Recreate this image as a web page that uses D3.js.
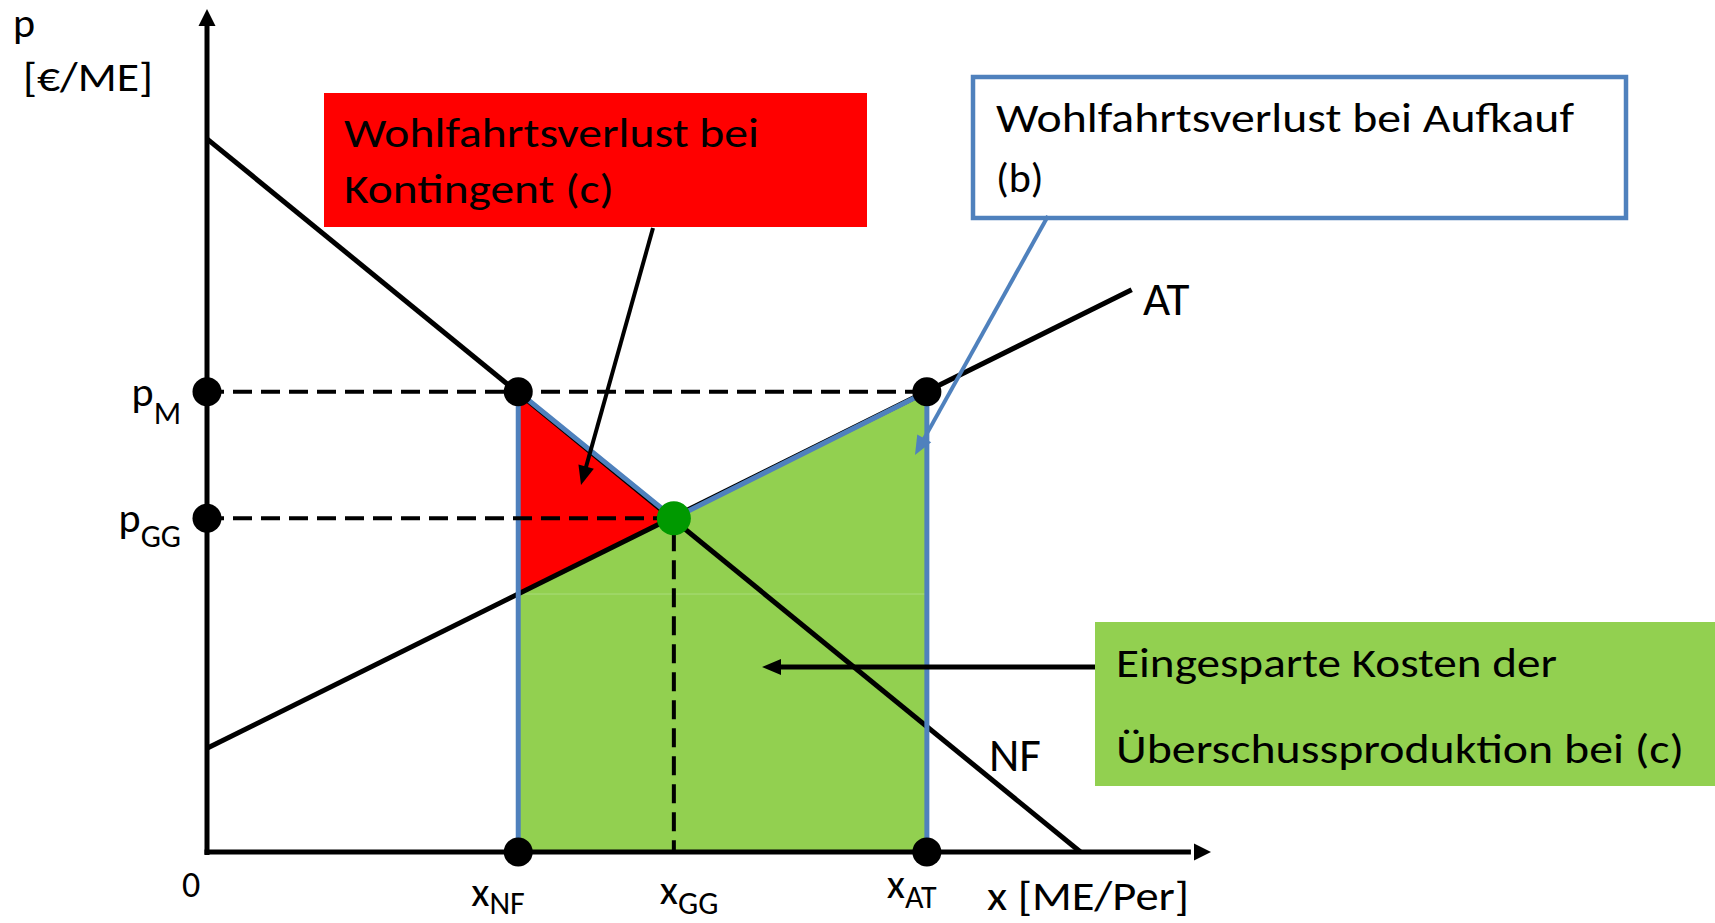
<!DOCTYPE html>
<html>
<head>
<meta charset="utf-8">
<script src="https://cdn.jsdelivr.net/npm/d3@7/dist/d3.min.js"></script>
<style>
  html, body { margin: 0; padding: 0; background: #fff; }
  svg { display: block; }
  text { font-family: Carlito, Calibri, 'Open Sans', sans-serif; fill: #000; }
</style>
</head>
<body>
<svg id="chart" width="1715" height="923"></svg>
<script>
// Data (x in ME/Per, p in EUR/ME, schematic units, axis tips = 100)
const nfLine = [[0, 84.6], [87, 0]];
const atLine = [[0, 12.3], [92.1, 66.7]];
const quantities = [31, 46.5, 71.7];          // x_NF, x_GG, x_AT
const prices = [54.6, 39.6];                  // p_M, p_GG
const xSubLabels = ['NF', 'GG', 'AT'];
const pSubLabels = ['M', 'GG'];
const redArea = [[31, 54.6], [46.5, 39.6], [31, 30.6]];
const greenArea = [[31, 30.6], [46.5, 39.6], [71.7, 54.6], [71.7, 0], [31, 0]];
const redBoxText = ['Wohlfahrtsverlust bei', 'Kontingent (c)'];
const blueBoxText = ['Wohlfahrtsverlust bei Aufkauf', '(b)'];
const greenBoxText = ['Eingesparte Kosten der', 'Überschussproduktion bei (c)'];

// Constants
const RED = '#ff0000';
const GREEN = '#92d050';
const BLUE = '#4f81bd';
const DOT_GREEN = '#009900';
const FONT = 42;
const SUB_FONT = 32;

const svg = d3.select('#chart');
const x = d3.scaleLinear().domain([0, 100]).range([207, 1211]);
const y = d3.scaleLinear().domain([0, 100]).range([852, 9]);
const line = d3.line().x(d => x(d[0])).y(d => y(d[1]));

const [qNF, qGG, qAT] = quantities;
const [pM, pGG] = prices;

// Areas
svg.append('path').datum(greenArea).attr('d', d => line(d) + 'Z').attr('fill', GREEN);
svg.append('line')
    .attr('x1', x(qNF)).attr('x2', x(qAT))
    .attr('y1', y(greenArea[0][1])).attr('y2', y(greenArea[0][1]))
    .attr('stroke', '#a9dc7c').attr('stroke-width', 1);
svg.append('path').datum(redArea).attr('d', d => line(d) + 'Z').attr('fill', RED);

// Axes
svg.append('line')
    .attr('x1', x(0)).attr('x2', x(0)).attr('y1', y(0) + 3).attr('y2', y(98))
    .attr('stroke', '#000').attr('stroke-width', 5);
svg.append('line')
    .attr('x1', x(0) - 2.5).attr('x2', x(98)).attr('y1', y(0)).attr('y2', y(0))
    .attr('stroke', '#000').attr('stroke-width', 5);
svg.append('path')
    .attr('d', `M${x(0) - 8.5},${y(100) + 17}L${x(0)},${y(100)}L${x(0) + 8.5},${y(100) + 17}Z`);
svg.append('path')
    .attr('d', `M${x(100) - 17},${y(0) - 8.5}L${x(100)},${y(0)}L${x(100) - 17},${y(0) + 8.5}Z`);

// Curves
[nfLine, atLine].forEach(l => {
    svg.append('path').datum(l).attr('d', line)
        .attr('fill', 'none').attr('stroke', '#000').attr('stroke-width', 5);
});

// Blue outline of the areas
svg.append('path')
    .datum([[qNF, 0], [qNF, pM], [qGG, pGG], [qAT, pM], [qAT, 0]])
    .attr('d', line)
    .attr('fill', 'none').attr('stroke', BLUE).attr('stroke-width', 5);

// Dashed guides
const dashed = [
    [[0, pM], [qAT, pM]],
    [[0, pGG], [qGG, pGG]],
    [[qGG, pGG], [qGG, 0]]
];
svg.selectAll('.guide').data(dashed).join('path')
    .attr('class', 'guide')
    .attr('d', line)
    .attr('fill', 'none').attr('stroke', '#000').attr('stroke-width', 4)
    .attr('stroke-dasharray', '19 9')
    .attr('stroke-dashoffset', (d, i) => i < 2 ? 2 : -14);

// Dots
const blackDots = [[0, pM], [0, pGG], [qNF, pM], [qAT, pM], [qNF, 0], [qAT, 0]];
svg.selectAll('.dot').data(blackDots).join('circle')
    .attr('class', 'dot')
    .attr('cx', d => x(d[0])).attr('cy', d => y(d[1])).attr('r', 14.5)
    .attr('fill', '#000');
svg.append('circle')
    .attr('cx', x(qGG)).attr('cy', y(pGG)).attr('r', 17)
    .attr('fill', DOT_GREEN);

// Boxes
function box(bx, by, w, h, fill, stroke, lines, tx, baselines, widths) {
    svg.append('rect')
        .attr('x', bx).attr('y', by).attr('width', w).attr('height', h)
        .attr('fill', fill)
        .attr('stroke', stroke || 'none').attr('stroke-width', stroke ? 4.5 : 0);
    lines.forEach((t, i) => {
        let el = svg.append('text')
            .attr('x', tx).attr('y', baselines[i])
            .attr('font-size', FONT)
            .text(t);
        if (widths[i]) el.attr('textLength', widths[i]).attr('lengthAdjust', 'spacingAndGlyphs');
    });
}
box(324, 93, 543, 134, RED, null, redBoxText, 344, [147, 203], [415, 270]);
box(973, 77, 653, 141, '#fff', BLUE, blueBoxText, 996, [132, 192], [578, 0]);
box(1095, 622, 625, 164, GREEN, null, greenBoxText, 1116, [677, 763], [441, 568]);

// Arrows
function arrow(x1, y1, x2, y2, color, width) {
    let a = Math.atan2(y2 - y1, x2 - x1),
        len = 19, half = 8,
        bx = x2 - len * Math.cos(a), by = y2 - len * Math.sin(a);
    svg.append('line')
        .attr('x1', x1).attr('y1', y1)
        .attr('x2', bx + 4 * Math.cos(a)).attr('y2', by + 4 * Math.sin(a))
        .attr('stroke', color).attr('stroke-width', width);
    svg.append('path')
        .attr('d', `M${x2},${y2}L${bx - half * Math.sin(a)},${by + half * Math.cos(a)}L${bx + half * Math.sin(a)},${by - half * Math.cos(a)}Z`)
        .attr('fill', color);
}
arrow(653, 228, 581, 485, '#000', 4);
arrow(1048, 216, 915, 455, BLUE, 4);
arrow(1095, 667, 762, 667, '#000', 5);

// Axis labels
svg.append('text').attr('x', 13).attr('y', 37).attr('font-size', FONT).text('p');
svg.append('text').attr('x', 23).attr('y', 91).attr('font-size', FONT)
    .attr('textLength', 130).attr('lengthAdjust', 'spacingAndGlyphs').text('[€/ME]');
svg.append('text').attr('x', 191).attr('y', 897).attr('font-size', 36)
    .attr('text-anchor', 'middle').text('0');
svg.append('text').attr('x', 987).attr('y', 910).attr('font-size', FONT)
    .attr('textLength', 202).attr('lengthAdjust', 'spacingAndGlyphs').text('x [ME/Per]');

// Price labels
const pSubDy = [18, 15];
svg.selectAll('.p-label').data(prices).join('text')
    .attr('class', 'p-label')
    .attr('x', 181).attr('y', d => y(d) + 14)
    .attr('text-anchor', 'end')
    .attr('font-size', FONT)
    .each(function(d, i) {
        let t = d3.select(this);
        t.append('tspan').text('p');
        t.append('tspan').attr('font-size', SUB_FONT).attr('dy', pSubDy[i]).text(pSubLabels[i]);
    });

// Quantity labels
const xLabelDx = [-47, -14, -40];
const xLabelBase = [906, 904, 898];
const xSubDy = [8, 10, 10];
svg.selectAll('.x-label').data(quantities).join('text')
    .attr('class', 'x-label')
    .attr('x', (d, i) => x(d) + xLabelDx[i]).attr('y', (d, i) => xLabelBase[i])
    .attr('font-size', FONT)
    .each(function(d, i) {
        let t = d3.select(this);
        t.append('tspan').text('x');
        t.append('tspan').attr('font-size', SUB_FONT).attr('dy', xSubDy[i]).text(xSubLabels[i]);
    });

// Curve labels
svg.append('text').attr('x', 989).attr('y', 771).attr('font-size', 47).text('NF');
svg.append('text').attr('x', 1143).attr('y', 315).attr('font-size', 47).text('AT');
</script>
</body>
</html>
